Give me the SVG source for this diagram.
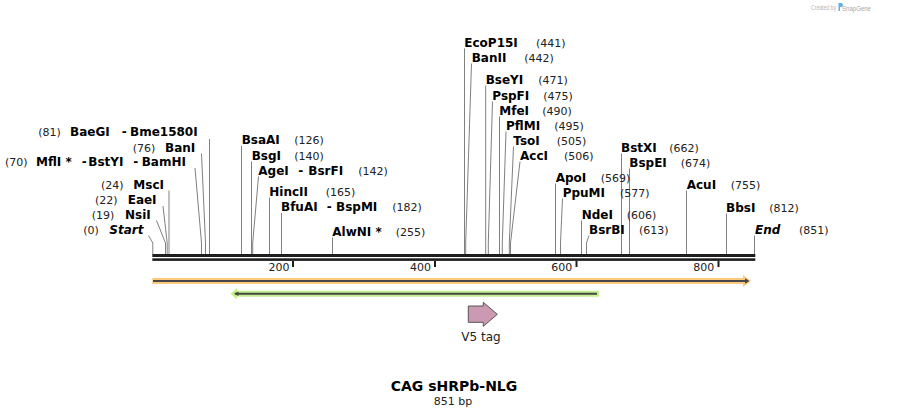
<svg xmlns="http://www.w3.org/2000/svg" width="908" height="417" viewBox="0 0 908 417">
<style>
.n{font-family:"DejaVu Sans",Verdana,sans-serif;font-weight:bold;font-size:12px;fill:#000}
.it{font-style:italic}
.p{font-family:"DejaVu Sans",Verdana,sans-serif;font-size:11px;fill:#222}
.ld{fill:none;stroke:#808080;stroke-width:1}
.tk{font-family:"DejaVu Sans",Verdana,sans-serif;font-size:11px;fill:#222;text-anchor:end}
.dk{fill:none;stroke:#474747;stroke-width:2}
</style>
<rect width="908" height="417" fill="#fff"/>
<g id="credit">
<text x="811" y="10" font-family="Liberation Sans,Arial,sans-serif" font-size="6.5" fill="#b8b8b8" textLength="25" lengthAdjust="spacingAndGlyphs">Created by</text>
<path d="M838.5,3 h2.5 a2,2 0 0 1 0,4 h-1 v4 h-1.5 z" fill="#5fb0e6"/>
<text x="842" y="10.5" font-family="Liberation Sans,Arial,sans-serif" font-size="8" fill="#a8a8a8" textLength="29" lengthAdjust="spacingAndGlyphs">SnapGene</text>
</g>
<g id="connectors">
<path class="ld" d="M148.5,235.5 L152.8,243 V254"/>
<path class="ld" d="M156.5,220.5 L165.5,243 V254"/>
<path class="ld" d="M163,206 L167.2,243 V254"/>
<path class="ld" d="M169,190.5 V254"/>
<path class="ld" d="M195,168 L201.5,243 V254"/>
<path class="ld" d="M201.5,153.5 L205.5,243 V254"/>
<path class="ld" d="M209.5,139 V254"/>
<path class="ld" d="M241.5,146 V254"/>
<path class="ld" d="M251.5,161.5 V254"/>
<path class="ld" d="M258.5,176.5 L252.7,243 V254"/>
<path class="ld" d="M269.5,197.5 V254"/>
<path class="ld" d="M281.5,213 V254"/>
<path class="ld" d="M332.5,237.5 V254"/>
<path class="ld" d="M464.5,48.5 V254"/>
<path class="ld" d="M471.5,63.5 L465.7,243 V254"/>
<path class="ld" d="M485.7,85.5 V254"/>
<path class="ld" d="M492.5,101.5 L488.3,243 V254"/>
<path class="ld" d="M499.5,116.5 V254"/>
<path class="ld" d="M506,131.5 L502.3,243 V254"/>
<path class="ld" d="M513.5,146.5 L509.3,243 V254"/>
<path class="ld" d="M520,161.5 L510.5,243 V254"/>
<path class="ld" d="M555.5,183.5 V254"/>
<path class="ld" d="M562.5,198.5 L560.5,243 V254"/>
<path class="ld" d="M581.5,220.5 V254"/>
<path class="ld" d="M589,235.5 L586.5,243 V254"/>
<path class="ld" d="M621.5,153.5 V254"/>
<path class="ld" d="M629.5,168.5 V254"/>
<path class="ld" d="M686.5,190.5 V254"/>
<path class="ld" d="M726.5,213.5 V254"/>
<path class="ld" d="M754.5,235.5 V254"/>
</g>
<g id="backbone">
<rect x="152.3" y="254" width="603" height="3" fill="#1e1e1e"/>
<rect x="152.3" y="258.3" width="603" height="2.6" fill="#1e1e1e"/>
<rect x="292" y="261" width="2" height="6" fill="#1e1e1e"/>
<rect x="434" y="261" width="2" height="6" fill="#1e1e1e"/>
<rect x="575.5" y="261" width="2" height="6" fill="#1e1e1e"/>
<rect x="717.5" y="261" width="2" height="6" fill="#1e1e1e"/>
<text class="tk" x="289.5" y="270.5">200</text>
<text class="tk" x="431" y="270.5">400</text>
<text class="tk" x="572.3" y="270.5">600</text>
<text class="tk" x="714.3" y="270.5">800</text>
</g>
<g id="site-start"><text class="p" x="83.3" y="234">(0)</text><text class="n it" x="109.3" y="234">Start</text></g>
<g id="site-NsiI"><text class="p" x="91.7" y="218.5">(19)</text><text class="n" x="125" y="218.5">NsiI</text></g>
<g id="site-EaeI"><text class="p" x="95" y="203.5">(22)</text><text class="n" x="127.7" y="203.5">EaeI</text></g>
<g id="site-MscI"><text class="p" x="101" y="188.5">(24)</text><text class="n" x="133.3" y="188.5">MscI</text></g>
<g id="site-BamHI"><text class="p" x="5" y="166">(70)</text><text class="n" x="36" y="166">MflI *</text><text class="n" x="81.7" y="166">-</text><text class="n" x="88.3" y="166">BstYI</text><text class="n" x="133.3" y="166">-</text><text class="n" x="141.7" y="166">BamHI</text></g>
<g id="site-BanI"><text class="p" x="132.7" y="151.5">(76)</text><text class="n" x="165" y="151.5">BanI</text></g>
<g id="site-Bme1580I"><text class="p" x="38.3" y="135.5">(81)</text><text class="n" x="70" y="135.5">BaeGI</text><text class="n" x="121.7" y="135.5">-</text><text class="n" x="130" y="135.5">Bme1580I</text></g>
<g id="site-BsaAI"><text class="n" x="241.7" y="144">BsaAI</text><text class="p" x="294.3" y="144">(126)</text></g>
<g id="site-BsgI"><text class="n" x="251.7" y="159.5">BsgI</text><text class="p" x="294.3" y="159.5">(140)</text></g>
<g id="site-AgeI"><text class="n" x="258.3" y="174.5">AgeI</text><text class="n" x="298.3" y="174.5">-</text><text class="n" x="308.3" y="174.5">BsrFI</text><text class="p" x="358.3" y="174.5">(142)</text></g>
<g id="site-HincII"><text class="n" x="269.3" y="195.5">HincII</text><text class="p" x="325.7" y="195.5">(165)</text></g>
<g id="site-BfuAI"><text class="n" x="281" y="211">BfuAI</text><text class="n" x="326.7" y="211">-</text><text class="n" x="336" y="211">BspMI</text><text class="p" x="392.3" y="211">(182)</text></g>
<g id="site-AlwNI"><text class="n" x="332.3" y="235.5">AlwNI *</text><text class="p" x="395.7" y="235.5">(255)</text></g>
<g id="site-EcoP15I"><text class="n" x="464.3" y="46.5">EcoP15I</text><text class="p" x="536" y="46.5">(441)</text></g>
<g id="site-BanII"><text class="n" x="471.7" y="61.5">BanII</text><text class="p" x="524.3" y="61.5">(442)</text></g>
<g id="site-BseYI"><text class="n" x="485.7" y="83.5">BseYI</text><text class="p" x="538.3" y="83.5">(471)</text></g>
<g id="site-PspFI"><text class="n" x="492.3" y="99.5">PspFI</text><text class="p" x="543.3" y="99.5">(475)</text></g>
<g id="site-MfeI"><text class="n" x="499.3" y="114.5">MfeI</text><text class="p" x="542.3" y="114.5">(490)</text></g>
<g id="site-PflMI"><text class="n" x="506" y="129.5">PflMI</text><text class="p" x="554.3" y="129.5">(495)</text></g>
<g id="site-TsoI"><text class="n" x="513.3" y="144.5">TsoI</text><text class="p" x="556.7" y="144.5">(505)</text></g>
<g id="site-AccI"><text class="n" x="520" y="159.5">AccI</text><text class="p" x="564" y="159.5">(506)</text></g>
<g id="site-ApoI"><text class="n" x="555.7" y="181.5">ApoI</text><text class="p" x="600.7" y="181.5">(569)</text></g>
<g id="site-PpuMI"><text class="n" x="562.7" y="196.5">PpuMI</text><text class="p" x="620" y="196.5">(577)</text></g>
<g id="site-NdeI"><text class="n" x="581.7" y="218.5">NdeI</text><text class="p" x="626.7" y="218.5">(606)</text></g>
<g id="site-BsrBI"><text class="n" x="589" y="233.5">BsrBI</text><text class="p" x="639" y="233.5">(613)</text></g>
<g id="site-BstXI"><text class="n" x="621" y="151.5">BstXI</text><text class="p" x="669.3" y="151.5">(662)</text></g>
<g id="site-BspEI"><text class="n" x="629.3" y="166.5">BspEI</text><text class="p" x="680.7" y="166.5">(674)</text></g>
<g id="site-AcuI"><text class="n" x="686.7" y="188.5">AcuI</text><text class="p" x="730.7" y="188.5">(755)</text></g>
<g id="site-BbsI"><text class="n" x="726" y="211.5">BbsI</text><text class="p" x="769.3" y="211.5">(812)</text></g>
<g id="site-end"><text class="n it" x="755" y="233.5">End</text><text class="p" x="799" y="233.5">(851)</text></g>
<g id="feature-orange">
<polygon points="152.3,278 743,278 743,275 751,281 743,287 743,284 152.3,284" fill="#fdc97c"/>
<line class="dk" x1="153" y1="281" x2="746" y2="281"/>
<polygon points="745,278.3 749.5,281 745,283.7" fill="#474747"/>
</g>
<g id="feature-green">
<polygon points="599,290.7 237,290.7 237,288 230.5,293.7 237,299.5 237,296.7 599,296.7" fill="#c4f08e"/>
<line class="dk" x1="235" y1="293.7" x2="597" y2="293.7"/>
<polygon points="238.5,291.5 234,293.7 238.5,296" fill="#474747"/>
</g>
<g id="feature-V5tag">
<polygon points="468.3,306 483.3,306 483.3,302.3 497.3,314.3 483.3,326.3 483.3,322.3 468.3,322.3" fill="#cc99b3" stroke="#555" stroke-width="1"/>
<text x="481" y="341" font-family="DejaVu Sans,Verdana,sans-serif" font-size="12" fill="#222" text-anchor="middle">V5 tag</text>
</g>
<g id="title">
<text x="454" y="390.5" font-family="DejaVu Sans,Verdana,sans-serif" font-size="14" font-weight="bold" fill="#000" text-anchor="middle">CAG sHRPb-NLG</text>
<text x="453" y="405" font-family="DejaVu Sans,Verdana,sans-serif" font-size="11" fill="#222" text-anchor="middle">851 bp</text>
</g>
</svg>
